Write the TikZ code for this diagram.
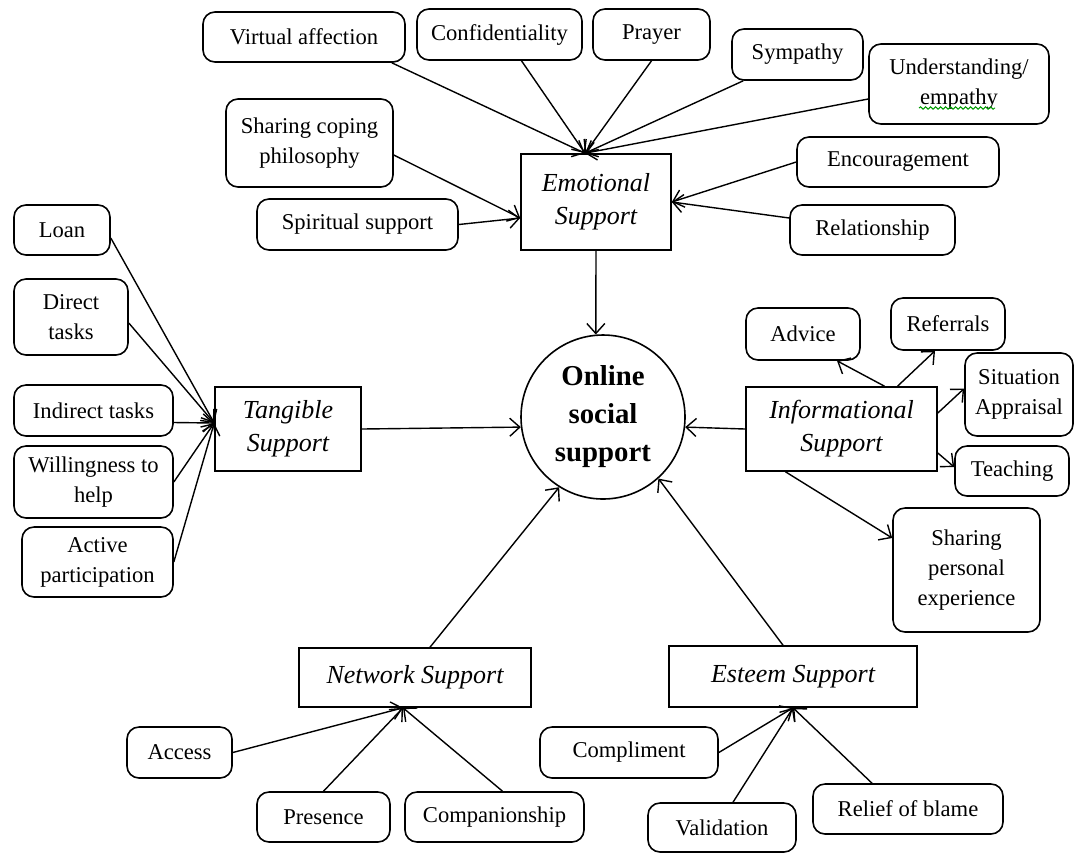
\documentclass[tikz,border=0pt]{standalone}
\usepackage{fontspec}
\setmainfont{Liberation Serif}
\usetikzlibrary{arrows.meta,decorations.pathmorphing}

\tikzset{
  leaf/.style={draw, rounded corners=6pt, line width=0.8pt, align=center, inner sep=1pt,
    font=\fontsize{11.3}{15}\selectfont},
  kind/.style={draw, line width=0.8pt, align=center, inner sep=1pt,
    font=\fontsize{13}{16.5}\selectfont\itshape},
  feed/.style={-{Straight Barb[length=5pt,width=9pt]}, line width=0.7pt},
}

\begin{document}
\begin{tikzpicture}[x=0.5pt, y=-0.5pt]
 \useasboundingbox (0,0) rectangle (1074,853);

 \node[draw, circle, minimum size=82pt, line width=0.8pt, align=center,
   font=\fontsize{14.4}{19}\selectfont\bfseries] (oss) at (603,417) {Online\\social\\support};

 % the five kinds of support
 \node[kind, minimum width=75pt,  minimum height=48pt]   (emo) at (596,202)   {Emotional\\Support};
 \node[kind, minimum width=73pt,  minimum height=42pt]   (tg)  at (288,429)   {Tangible\\Support};
 \node[kind, minimum width=95.5pt,minimum height=42pt]   (ifs) at (841.5,429) {Informational\\Support};
 \node[kind, minimum width=116pt, minimum height=29.5pt] (ns)  at (415,677.5) {Network Support};
 \node[kind, minimum width=124pt, minimum height=30.5pt] (es)  at (793,676.5) {Esteem Support};

 % emotional
 \node[leaf, minimum width=101pt,  minimum height=25pt]   (va)  at (304,37)     {Virtual affection};
 \node[leaf, minimum width=82.5pt, minimum height=25.5pt] (cf)  at (499.5,34.5) {Confidentiality};
 \node[leaf, minimum width=58.5pt, minimum height=25.5pt] (pr)  at (651.5,34.5) {Prayer};
 \node[leaf, minimum width=65.5pt, minimum height=25.5pt] (sy)  at (797.5,54.5) {Sympathy};
 \node[leaf, minimum width=90pt,   minimum height=40pt]   (un)  at (959,84)     {Understanding/\\empathy};
 \node[leaf, minimum width=83.5pt, minimum height=44pt]   (scp) at (309.5,143)  {Sharing coping\\philosophy};
 \node[leaf, minimum width=100.5pt,minimum height=25.5pt] (sp)  at (357.5,224.5){Spiritual support};
 \node[leaf, minimum width=101pt,  minimum height=25pt]   (en)  at (898,162)    {Encouragement};
 \node[leaf, minimum width=82.5pt, minimum height=25pt]   (rel) at (872.5,230)  {Relationship};

 % tangible
 \node[leaf, minimum width=48pt,   minimum height=25pt]   (lo)  at (62,230)     {Loan};
 \node[leaf, minimum width=57pt,   minimum height=38pt]   (dt)  at (71,317)     {Direct\\tasks};
 \node[leaf, minimum width=79.5pt, minimum height=25.5pt] (it)  at (93.5,410.5) {Indirect tasks};
 \node[leaf, minimum width=79.5pt, minimum height=36pt]   (wh)  at (93.5,482)   {Willingness to\\help};
 \node[leaf, minimum width=75.5pt, minimum height=35pt]   (ap)  at (97.5,562)   {Active\\participation};

 % informational
 \node[leaf, minimum width=57pt,   minimum height=26pt]   (ad)  at (803,334)    {Advice};
 \node[leaf, minimum width=57pt,   minimum height=26pt]   (rf)  at (948,324)    {Referrals};
 \node[leaf, minimum width=54pt,   minimum height=41.5pt] (sa)  at (1019,394.5) {Situation\\Appraisal};
 \node[leaf, minimum width=57pt,   minimum height=25pt]   (te)  at (1012,471)   {Teaching};
 \node[leaf, minimum width=73.5pt, minimum height=62pt]   (spe) at (966.5,570)  {Sharing\\personal\\experience};

 % network
 \node[leaf, minimum width=52.5pt, minimum height=25.5pt] (ac)  at (179.5,752.5){Access};
 \node[leaf, minimum width=66.5pt, minimum height=25pt]   (pre) at (323.5,817)  {Presence};
 \node[leaf, minimum width=89.5pt, minimum height=25pt]   (cmp) at (494.5,817)  {Companionship};

 % esteem
 \node[leaf, minimum width=89pt,   minimum height=25.5pt] (cm)  at (629,752.5)  {Compliment};
 \node[leaf, minimum width=74pt,   minimum height=24.5pt] (vl)  at (722,827.5)  {Validation};
 \node[leaf, minimum width=95pt,   minimum height=25pt]   (rb)  at (908,809)    {Relief of blame};

 \draw[green!60!black, line width=0.5pt, decorate, decoration={snake, amplitude=0.6pt, segment length=2.5pt}]
   ([shift={(-20pt,-12pt)}]un.center) -- ([shift={(18pt,-12pt)}]un.center);

 % into the circle
 \draw[feed] (emo.south) -- (oss.95);
 \draw[feed] (tg.east) -- (oss.187);
 \draw[feed] (ifs.west) -- (oss.-7);
 \draw[feed] ([xshift=7.5pt]ns.north) -- (oss.238);
 \draw[feed] ([xshift=-5pt]es.north) -- (oss.312);

 % into emotional
 \draw[feed] ([xshift=-7pt]va.south east) -- ([xshift=-5.5pt]emo.north);
 \draw[feed] ([xshift=11pt]cf.south) -- ([xshift=-5.5pt]emo.north);
 \draw[feed] (pr.south) -- ([xshift=-5.5pt]emo.north);
 \draw[feed] ([xshift=6pt]sy.south west) -- ([xshift=-5.5pt]emo.north);
 \draw[feed] ([yshift=-7.5pt]un.west) -- ([xshift=-5.5pt]emo.north);
 \draw[feed] ([yshift=-6pt]scp.east) -- ([yshift=-8pt]emo.west);
 \draw[feed] (sp.east) -- ([yshift=-8pt]emo.west);
 \draw[feed] (en.west) -- (emo.east);
 \draw[feed] ([yshift=6pt]rel.west) -- (emo.east);

 % into tangible
 \draw[feed] ([yshift=-4pt]lo.east) -- ([yshift=3pt]tg.west);
 \draw[feed] ([yshift=-3pt]dt.east) -- ([yshift=3pt]tg.west);
 \draw[feed] ([yshift=-6pt]it.east) -- ([yshift=3pt]tg.west);
 \draw[feed] (wh.east) -- ([yshift=3pt]tg.west);
 \draw[feed] (ap.east) -- ([yshift=3pt]tg.west);

 % out of informational
 \draw[feed] ([xshift=21.5pt]ifs.north) -- ([xshift=17pt]ad.south);
 \draw[feed] ([xshift=28pt]ifs.north) -- ([xshift=-6.5pt]rf.south);
 \draw[feed] ([yshift=8pt]ifs.east) -- ([yshift=3pt]sa.west);
 \draw[feed] ([yshift=-12pt]ifs.east) -- ([yshift=2pt]te.west);
 \draw[feed] ([xshift=-28pt]ifs.south) -- ([yshift=16pt]spe.west);

 % into network
 \draw[feed] (ac.east) -- ([xshift=-6pt]ns.south);
 \draw[feed] (pre.north) -- ([xshift=-6pt]ns.south);
 \draw[feed] ([xshift=4pt]cmp.north) -- ([xshift=-6pt]ns.south);

 % into esteem
 \draw[feed] (cm.east) -- (es.south);
 \draw[feed] ([xshift=5.5pt]vl.north) -- (es.south);
 \draw[feed] ([xshift=-18pt]rb.north) -- (es.south);
\end{tikzpicture}
\end{document}
